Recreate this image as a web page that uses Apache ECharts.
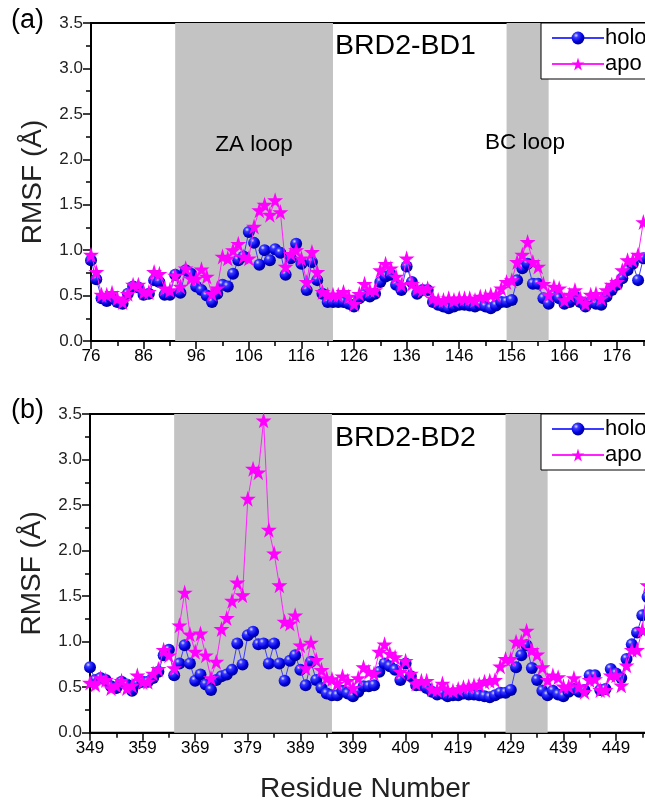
<!DOCTYPE html>
<html>
<head>
<meta charset="utf-8">
<script src="https://cdn.jsdelivr.net/npm/echarts@6/dist/echarts.min.js"></script>
<style>
html, body { margin: 0; padding: 0; background: #fff; }
#chart { width: 645px; height: 800px; }
</style>
</head>
<body>
<div id="chart"></div>
<script>
// BRD2-BD1, residues 76..181
const startTop = 76;
const holoTop = [0.89, 0.68, 0.47, 0.44, 0.47, 0.43, 0.41, 0.52, 0.60, 0.59,
  0.51, 0.52, 0.67, 0.65, 0.51, 0.51, 0.73, 0.53, 0.78, 0.74,
  0.60, 0.56, 0.50, 0.43, 0.52, 0.62, 0.60, 0.74, 0.89, 0.93,
  1.20, 1.08, 0.84, 1.00, 0.89, 1.01, 0.97, 0.73, 0.91, 1.07,
  0.85, 0.56, 0.87, 0.67, 0.52, 0.43, 0.43, 0.43, 0.43, 0.41,
  0.38, 0.47, 0.51, 0.49, 0.52, 0.65, 0.71, 0.73, 0.62, 0.56,
  0.82, 0.65, 0.52, 0.56, 0.56, 0.43, 0.40, 0.38, 0.36, 0.38,
  0.40, 0.40, 0.39, 0.38, 0.40, 0.38, 0.36, 0.39, 0.43, 0.43,
  0.45, 0.67, 0.80, 0.85, 0.63, 0.63, 0.47, 0.41, 0.51, 0.47,
  0.41, 0.43, 0.49, 0.43, 0.38, 0.43, 0.41, 0.40, 0.49, 0.56,
  0.62, 0.69, 0.78, 0.85, 0.67, 0.91];
const apoTop = [0.95, 0.76, 0.51, 0.51, 0.53, 0.47, 0.43, 0.52, 0.62, 0.62,
  0.54, 0.54, 0.76, 0.74, 0.58, 0.56, 0.72, 0.60, 0.80, 0.69,
  0.69, 0.79, 0.71, 0.52, 0.58, 0.93, 0.91, 1.00, 1.07, 0.93,
  0.91, 1.26, 1.44, 1.50, 1.39, 1.55, 1.42, 0.82, 0.96, 1.00,
  0.91, 0.65, 0.98, 0.76, 0.54, 0.51, 0.51, 0.51, 0.54, 0.49,
  0.41, 0.52, 0.63, 0.56, 0.56, 0.78, 0.85, 0.80, 0.71, 0.62,
  0.91, 0.63, 0.58, 0.56, 0.58, 0.47, 0.45, 0.45, 0.47, 0.45,
  0.47, 0.47, 0.47, 0.45, 0.49, 0.49, 0.51, 0.51, 0.58, 0.65,
  0.67, 0.87, 0.95, 1.09, 0.87, 0.82, 0.63, 0.51, 0.60, 0.58,
  0.45, 0.51, 0.56, 0.47, 0.41, 0.51, 0.52, 0.47, 0.56, 0.62,
  0.65, 0.78, 0.89, 0.89, 0.95, 1.31];

// BRD2-BD2, residues 349..455
const startBottom = 349;
const holoBottom = [0.72, 0.58, 0.60, 0.58, 0.51, 0.49, 0.56, 0.53, 0.46, 0.54,
  0.56, 0.56, 0.60, 0.67, 0.85, 0.91, 0.63, 0.76, 0.96, 0.76,
  0.57, 0.64, 0.53, 0.47, 0.58, 0.62, 0.64, 0.69, 0.98, 0.75,
  1.07, 1.11, 0.97, 0.98, 0.76, 0.98, 0.76, 0.57, 0.79, 0.85,
  0.69, 0.52, 0.78, 0.58, 0.49, 0.43, 0.41, 0.41, 0.46, 0.43,
  0.40, 0.45, 0.51, 0.51, 0.52, 0.67, 0.76, 0.73, 0.69, 0.58,
  0.76, 0.62, 0.52, 0.52, 0.49, 0.45, 0.42, 0.43, 0.40, 0.41,
  0.41, 0.43, 0.42, 0.42, 0.41, 0.40, 0.39, 0.41, 0.44, 0.44,
  0.47, 0.72, 0.85, 0.96, 0.71, 0.58, 0.46, 0.41, 0.46, 0.42,
  0.40, 0.45, 0.48, 0.45, 0.47, 0.63, 0.63, 0.47, 0.48, 0.70,
  0.65, 0.60, 0.81, 0.97, 1.10, 1.29, 1.49];
const apoBottom = [0.55, 0.53, 0.60, 0.58, 0.49, 0.52, 0.57, 0.49, 0.52, 0.63,
  0.56, 0.56, 0.65, 0.70, 0.91, 0.85, 0.71, 1.18, 1.54, 1.08,
  0.89, 1.09, 0.85, 0.60, 0.78, 1.14, 1.26, 1.45, 1.65, 1.51,
  2.57, 2.90, 2.86, 3.43, 2.23, 1.97, 1.62, 1.22, 1.20, 1.29,
  0.96, 0.71, 0.99, 0.80, 0.69, 0.60, 0.59, 0.54, 0.62, 0.57,
  0.49, 0.60, 0.72, 0.67, 0.65, 0.89, 0.97, 0.87, 0.83, 0.67,
  0.79, 0.65, 0.54, 0.57, 0.57, 0.48, 0.47, 0.54, 0.47, 0.46,
  0.48, 0.50, 0.51, 0.52, 0.53, 0.56, 0.57, 0.58, 0.73, 0.81,
  0.81, 1.00, 1.00, 1.12, 0.91, 0.86, 0.72, 0.58, 0.63, 0.61,
  0.51, 0.51, 0.60, 0.51, 0.45, 0.58, 0.59, 0.47, 0.47, 0.63,
  0.63, 0.52, 0.74, 0.91, 0.91, 1.13, 1.62];

// loop regions (residue ranges)
const loopsTop = [[92, 122], [155, 163]];
const loopsBottom = [[365, 395], [428, 436]];

const font = '"Liberation Sans", Arial, sans-serif';
const ball = {
  type: 'radial', x: 0.35, y: 0.3, r: 0.7,
  colorStops: [
    { offset: 0, color: '#e0e0ff' },
    { offset: 0.25, color: '#3a3aff' },
    { offset: 0.7, color: '#0000e0' },
    { offset: 1, color: '#00008a' }
  ]
};
const star = 'path://M50,0 L61,35 L98,35 L68,57 L79,91 L50,70 L21,91 L32,57 L2,35 L39,35 Z';

function pairs(vals) {
  return vals.map((v, i) => [i, v]);  // x = residue - start
}

function xAxisFor(idx, start, max, showName) {
  return {
    type: 'value', gridIndex: idx, min: 0, max: max, interval: 10,
    axisLine: { onZero: false, lineStyle: { color: '#000', width: 2 } },
    axisTick: { length: 8, lineStyle: { color: '#000', width: 1.5 } },
    minorTick: { show: true, splitNumber: 2, length: 5, lineStyle: { color: '#000', width: 1.5 } },
    splitLine: { show: false },
    axisLabel: { color: '#000', fontSize: 17, fontFamily: font, margin: 7,
      showMaxLabel: false,
      formatter: v => (v % 10 === 0 ? (v + start).toString() : '') },
    name: showName ? 'Residue Number' : '',
    nameLocation: 'middle', nameGap: 43,
    nameTextStyle: { color: '#222', fontSize: 28, fontFamily: font, padding: [0, 10, 0, 0] }
  };
}

function yAxisFor(idx) {
  return {
    type: 'value', gridIndex: idx, min: 0, max: 3.5, interval: 0.5,
    axisLine: { show: true, lineStyle: { color: '#000', width: 2 } },
    axisTick: { show: true, length: 8, lineStyle: { color: '#000', width: 1.5 } },
    minorTick: { show: true, splitNumber: 2, length: 5, lineStyle: { color: '#000', width: 1.5 } },
    splitLine: { show: false },
    axisLabel: { color: '#222', fontSize: 17, fontFamily: font, margin: 8,
      formatter: v => v.toFixed(1) },
    name: 'RMSF (Å)', nameLocation: 'middle', nameGap: 44,
    nameTextStyle: { color: '#222', fontSize: 28, fontFamily: font }
  };
}

function holoSeries(idx, vals, start, loops) {
  return {
    name: 'holo', type: 'line', xAxisIndex: idx, yAxisIndex: idx,
    data: pairs(vals), symbol: 'circle', symbolSize: 12,
    lineStyle: { color: '#3b3bff', width: 1 },
    itemStyle: { color: ball },
    z: 3, animation: false,
    markArea: {
      silent: true,
      itemStyle: { color: '#c3c3c3' },
      data: loops.map(l => [{ xAxis: l[0] - start }, { xAxis: l[1] - start }])
    }
  };
}

function apoSeries(idx, vals) {
  return {
    name: 'apo', type: 'line', xAxisIndex: idx, yAxisIndex: idx,
    data: pairs(vals), symbol: star, symbolSize: 16,
    lineStyle: { color: '#ff22ff', width: 1 },
    itemStyle: { color: '#ff00ff' },
    z: 4, animation: false
  };
}

function legendFor(top) {
  return {
    orient: 'vertical', left: 541, top: top,
    data: ['holo', 'apo'],
    itemWidth: 52, itemHeight: 16, itemGap: 4,
    padding: [4, 30, 4, 10],
    borderColor: '#000', borderWidth: 1, backgroundColor: '#fff',
    textStyle: { color: '#000', fontSize: 22, fontFamily: font, padding: [0, 0, 0, -4] },
    selectedMode: false
  };
}

function label(text, x, y, size, align) {
  return {
    type: 'text', x: x, y: y, z: 100,
    style: { text: text, fontSize: size, fontFamily: font, fill: '#000',
      align: align || 'left', verticalAlign: 'middle' }
  };
}

const chart = echarts.init(document.getElementById('chart'));
const option = {
  backgroundColor: '#fff',
  animation: false,
  grid: [
    { left: 91, top: 23, width: 557.6, height: 318, show: true, borderColor: '#000', borderWidth: 2,
      outerBoundsMode: 'none', containLabel: false },
    { left: 90, top: 414, width: 560.2, height: 318.7, show: true, borderColor: '#000', borderWidth: 2,
      outerBoundsMode: 'none', containLabel: false }
  ],
  xAxis: [xAxisFor(0, startTop, 106, false), xAxisFor(1, startBottom, 106.5, true)],
  yAxis: [yAxisFor(0), yAxisFor(1)],
  legend: [legendFor(23), legendFor(414)],
  series: [
    holoSeries(0, holoTop, startTop, loopsTop),
    apoSeries(0, apoTop),
    holoSeries(1, holoBottom, startBottom, loopsBottom),
    apoSeries(1, apoBottom)
  ],
  graphic: [
    label('(a)', 11, 21, 27),
    label('(b)', 11, 411, 27),
    label('BRD2-BD1', 335, 46, 28.5),
    label('BRD2-BD2', 335, 438, 28.5),
    label('ZA loop', 254, 145, 22.5, 'center'),
    label('BC loop', 525, 143, 22.5, 'center')
  ]
};
chart.setOption(option);
</script>
</body>
</html>
